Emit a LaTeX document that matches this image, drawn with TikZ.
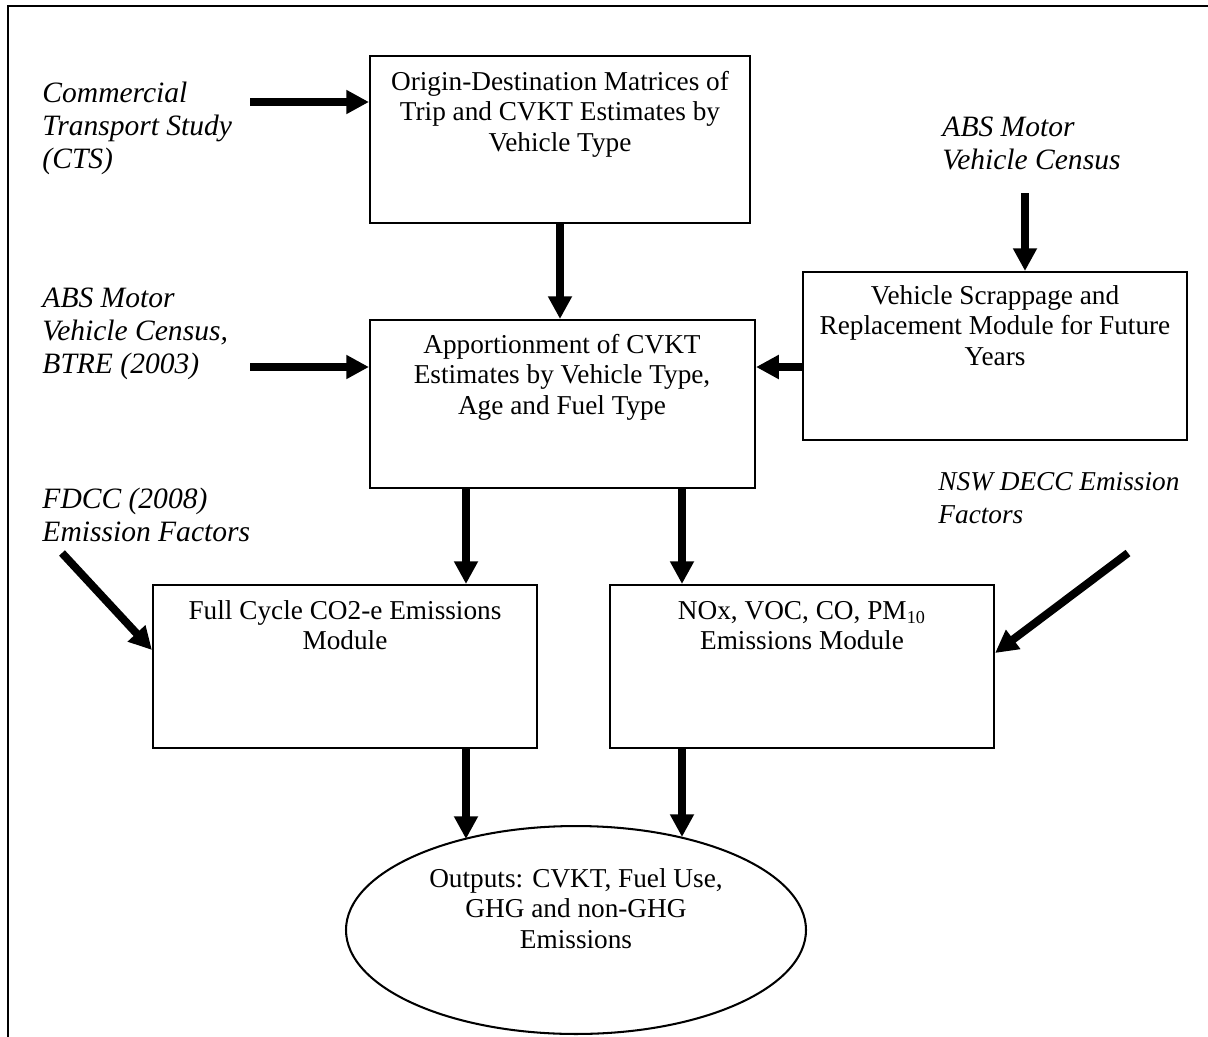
\documentclass[tikz,border=0pt]{standalone}
\usepackage{fontspec}
\setmainfont{Liberation Serif}
\usetikzlibrary{arrows.meta,shapes.geometric}
\begin{document}
\begin{tikzpicture}[x=0.44pt,y=-0.44pt,
  every node/.style={font=\fontsize{12}{13.42}\selectfont},
  box/.style={draw, line width=0.9pt, inner sep=0pt, minimum width=169pt, minimum height=73.9pt},
  txt/.style={inner sep=0pt, anchor=north, align=center, execute at begin node=\strut},
  src/.style={inner sep=0pt, anchor=north west, align=left, font=\fontsize{13}{14.5}\selectfont\itshape, execute at begin node=\strut},
  arr/.style={line width=3.5pt, -{Triangle[length=10pt,width=10pt]}}]
\useasboundingbox (0,0) rectangle (1208,1037);
% frame
\draw[line width=1pt] (8,1037) -- (8,6) -- (1208,6);
% boxes
\node[box, minimum width=167.2pt, minimum height=73.5pt] (od) at (560,139.5) {};
\node[box, minimum width=169.4pt, minimum height=73.9pt] (ap) at (562.5,404) {};
\node[box] (sc) at (995,356) {};
\node[box, minimum height=71.7pt] (fc) at (345,666.5) {};
\node[box, minimum height=71.7pt] (nx) at (802,666.5) {};
\node[draw, ellipse, line width=0.9pt, inner sep=0pt, minimum width=202.4pt, minimum height=91.5pt] (out) at (576,930) {};
% box texts
\node[txt] (odt) at (560,70.65) {Origin-Destination Matrices of\\Trip and CVKT Estimates by\\Vehicle Type};
\node[txt] (apt) at (562,333.65) {Apportionment of CVKT\\Estimates by Vehicle Type,\\Age and Fuel Type};
\node[txt] (sct) at (995,284.65) {Vehicle Scrappage and\\Replacement Module for Future\\Years};
\node[txt] (fct) at (345,599.65) {Full Cycle CO2-e Emissions\\Module};
\node[txt] (nxt) at (802,600.65) {NOx, VOC, CO, PM\textsubscript{10}\\Emissions Module};
\node[txt] (outt) at (576,867.65) {Outputs: CVKT, Fuel Use,\\GHG and non-GHG\\Emissions};
% source texts
\node[src] (cts) at (42,81.9) {Commercial\\Transport Study\\(CTS)};
\node[src] (absT) at (942,116.9) {ABS Motor\\Vehicle Census};
\node[src] (absL) at (42,287.9) {ABS Motor\\Vehicle Census,\\BTRE (2003)};
\node[src] (fdcc) at (42,487.9) {FDCC (2008)\\Emission Factors};
\node[src, font=\fontsize{12}{14.5}\selectfont\itshape] (nsw) at (938,471.9) {NSW DECC Emission\\Factors};
% coordinates
\coordinate (c1) at (250,102);
\coordinate (c2) at (1025,193);
\coordinate (c4) at (250,367);
\coordinate (xl) at (466,0);
\coordinate (xr) at (682,0);
\coordinate (o1) at (466,839);
\coordinate (o2) at (682,837);
\coordinate (f1) at (62,553);
\coordinate (f2) at (153,650);
\coordinate (n1) at (1128,553);
\coordinate (n2) at (994,653);
% arrows
\draw[arr] (c1) -- (c1 -| od.west);
\draw[arr] (c2) -- (c2 |- sc.north);
\draw[arr] (od.south) -- (od.south |- ap.north);
\draw[arr] (c4) -- (c4 -| ap.west);
\draw[arr] (c4 -| sc.west) -- (c4 -| ap.east);
\draw[arr] (xl |- ap.south) -- (xl |- fc.north);
\draw[arr] (xr |- ap.south) -- (xr |- nx.north);
\draw[arr] (xl |- fc.south) -- (o1);
\draw[arr] (xr |- nx.south) -- (o2);
\draw[arr] (f1) -- (f2 -| fc.west);
\draw[arr] (n1) -- (n2 -| nx.east);
\end{tikzpicture}
\end{document}
